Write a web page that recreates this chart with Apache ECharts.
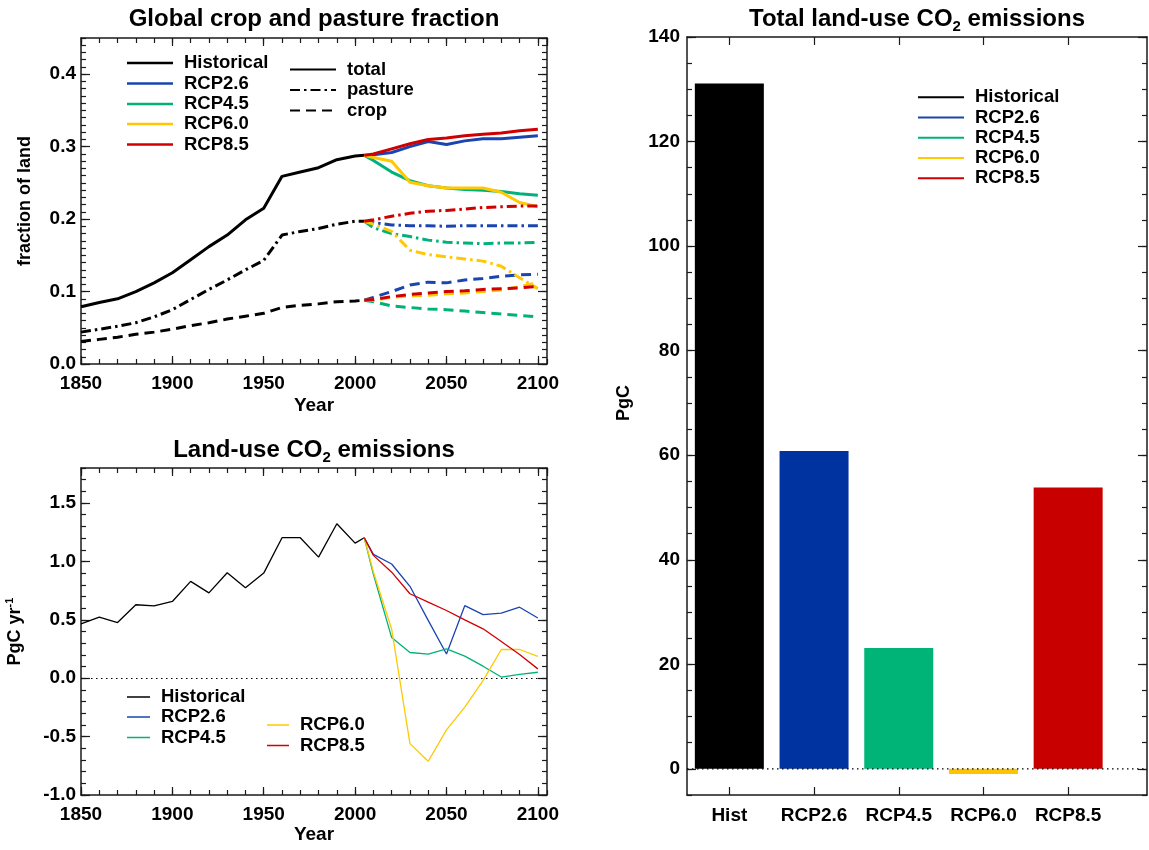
<!DOCTYPE html>
<html>
<head>
<meta charset="utf-8">
<script src="https://cdn.jsdelivr.net/npm/echarts@6/dist/echarts.min.js"></script>
<style>
  html, body { margin: 0; padding: 0; background: #ffffff; }
  #chart { width: 1149px; height: 850px; }
</style>
</head>
<body>
<div id="chart"></div>
<script>
// ---- data -------------------------------------------------------------
const yearsHist = [1850, 1860, 1870, 1880, 1890, 1900, 1910, 1920, 1930, 1940, 1950, 1960, 1970, 1980, 1990, 2000, 2005];
const yearsRcp = [2005, 2010, 2020, 2030, 2040, 2050, 2060, 2070, 2080, 2090, 2100];

const scenarios = ['Historical', 'RCP2.6', 'RCP4.5', 'RCP6.0', 'RCP8.5'];
const lineColors = ['#000000', '#1a44b0', '#00b27a', '#ffc800', '#d00000'];
const barColors = ['#000000', '#0033a0', '#00b478', '#ffc400', '#c80000'];

// fraction of land: total (crop + pasture), pasture, crop
const totalHist   = [0.079, 0.085, 0.090, 0.100, 0.112, 0.126, 0.144, 0.162, 0.178, 0.199, 0.215, 0.259, 0.265, 0.271, 0.282, 0.287, 0.288];
const pastureHist = [0.044, 0.048, 0.052, 0.057, 0.065, 0.075, 0.089, 0.103, 0.116, 0.130, 0.143, 0.178, 0.183, 0.187, 0.193, 0.197, 0.197];
const cropHist    = [0.031, 0.034, 0.037, 0.041, 0.044, 0.048, 0.053, 0.057, 0.062, 0.066, 0.070, 0.078, 0.081, 0.083, 0.086, 0.087, 0.088];

const totalRcp26 = [0.288, 0.289, 0.292, 0.300, 0.307, 0.303, 0.308, 0.311, 0.311, 0.313, 0.315];
const totalRcp45 = [0.288, 0.281, 0.265, 0.253, 0.246, 0.243, 0.241, 0.240, 0.238, 0.235, 0.233];
const totalRcp60 = [0.288, 0.285, 0.280, 0.251, 0.246, 0.243, 0.243, 0.243, 0.237, 0.223, 0.217];
const totalRcp85 = [0.288, 0.290, 0.297, 0.304, 0.310, 0.312, 0.315, 0.317, 0.319, 0.322, 0.324];

const pastureRcp26 = [0.197, 0.195, 0.192, 0.191, 0.191, 0.190, 0.191, 0.191, 0.191, 0.191, 0.191];
const pastureRcp45 = [0.197, 0.188, 0.180, 0.176, 0.171, 0.168, 0.167, 0.166, 0.167, 0.167, 0.168];
const pastureRcp60 = [0.197, 0.193, 0.183, 0.157, 0.151, 0.148, 0.145, 0.142, 0.135, 0.119, 0.104];
const pastureRcp85 = [0.197, 0.199, 0.204, 0.208, 0.211, 0.212, 0.214, 0.216, 0.217, 0.218, 0.218];

const cropRcp26 = [0.088, 0.092, 0.100, 0.109, 0.113, 0.112, 0.116, 0.118, 0.121, 0.123, 0.124];
const cropRcp45 = [0.088, 0.086, 0.080, 0.078, 0.076, 0.075, 0.073, 0.071, 0.069, 0.067, 0.065];
const cropRcp60 = [0.088, 0.088, 0.092, 0.094, 0.095, 0.097, 0.098, 0.100, 0.102, 0.107, 0.112];
const cropRcp85 = [0.088, 0.089, 0.093, 0.096, 0.098, 0.100, 0.101, 0.103, 0.104, 0.105, 0.107];

// land-use CO2 emissions, PgC per year
const emisHist  = [0.466, 0.523, 0.477, 0.629, 0.620, 0.657, 0.829, 0.731, 0.903, 0.774, 0.900, 1.203, 1.203, 1.037, 1.323, 1.157, 1.203];
const emisRcp26 = [1.203, 1.060, 0.978, 0.787, 0.495, 0.207, 0.621, 0.544, 0.557, 0.608, 0.516];
const emisRcp45 = [1.203, 0.890, 0.348, 0.220, 0.207, 0.251, 0.189, 0.103, 0.010, 0.032, 0.051];
const emisRcp60 = [1.203, 0.910, 0.420, -0.560, -0.711, -0.442, -0.248, -0.020, 0.246, 0.246, 0.187];
const emisRcp85 = [1.203, 1.052, 0.908, 0.723, 0.651, 0.580, 0.500, 0.423, 0.314, 0.203, 0.080];

// total land-use emissions, PgC
const barCategories = ['Hist', 'RCP2.6', 'RCP4.5', 'RCP6.0', 'RCP8.5'];
const barTotals = [131.1, 60.8, 23.1, -1.0, 53.8];

// ---- styling helpers --------------------------------------------------
const FONT = '"Liberation Sans", Arial, Helvetica, sans-serif';
const INK = '#000000';
const FRAME = '#1a1a1a';
const DASHED = [10, 6];
const DASH_DOT = [10, 4, 2.5, 4];

function pairs(xs, ys) { return xs.map((x, i) => [x, ys[i]]); }

const tickText = { fontFamily: FONT, fontWeight: 'bold', fontSize: 19, color: INK };

function valueAxis(gridIndex, position, min, max, interval, o) {
  o = o || {};
  const ax = {
    type: 'value', gridIndex: gridIndex, position: position,
    min: min, max: max, interval: interval,
    splitLine: { show: false },
    minorTick: { show: false },
    axisLine: { show: !!o.line, onZero: false, lineStyle: { color: FRAME, width: 1.5 } },
    axisTick: { show: !!o.tick, inside: true, length: o.tick || 0, lineStyle: { color: FRAME, width: 1.2 } },
    axisLabel: o.labels
      ? Object.assign({ show: true, margin: o.margin, showMinLabel: true, showMaxLabel: !!o.showMax, formatter: o.labels }, tickText)
      : { show: false }
  };
  if (o.name) {
    ax.name = o.name;
    ax.nameLocation = 'middle';
    ax.nameGap = o.nameGap;
    if (o.nameRotate !== undefined) ax.nameRotate = o.nameRotate;
    ax.nameTextStyle = Object.assign({ fontFamily: FONT, fontWeight: 'bold', fontSize: o.nameSize || 19, color: INK }, o.nameStyle || {});
  }
  return ax;
}

const fmt1 = v => v.toFixed(1);
const fmtYear = v => String(v);
const fmtInt = v => String(v);

// ---- grids ------------------------------------------------------------
const grids = [
  { left: 81, top: 38, width: 466, height: 326 },     // crop / pasture fraction
  { left: 81, top: 468, width: 466, height: 327 },    // yearly emissions
  { left: 687, top: 37, width: 423.5, height: 758 },  // bars
  { left: 687, top: 37, width: 460, height: 758 },    // frame of the bar panel
  { left: 687, top: 37, width: 460, height: 731.9 }   // labelled 0..140 scale of the bar panel
].map(g => Object.assign({ containLabel: false, outerBoundsMode: 'none', show: false }, g));

const xAxes = [];
const yAxes = [];

// time panels: labelled major ticks, minor ticks and mirrored ticks on the opposite sides
function timePanel(g, yMin, yMax, yMajor, yMinor, yName, yNameGap, yNameStyle, yearNameGap) {
  xAxes.push(valueAxis(g, 'bottom', 1850, 2105, 50, { line: true, tick: 8, labels: fmtYear, margin: 10, name: 'Year', nameGap: yearNameGap }));
  xAxes.push(valueAxis(g, 'bottom', 1850, 2105, 10, { tick: 5 }));
  xAxes.push(valueAxis(g, 'top', 1850, 2105, 50, { line: true, tick: 8 }));
  xAxes.push(valueAxis(g, 'top', 1850, 2105, 10, { tick: 5 }));
  yAxes.push(valueAxis(g, 'left', yMin, yMax, yMajor, { line: true, tick: 9, labels: fmt1, margin: 5, name: yName, nameGap: yNameGap, nameRotate: 90, nameSize: 18, nameStyle: yNameStyle }));
  yAxes.push(valueAxis(g, 'left', yMin, yMax, yMinor, { tick: 5 }));
  yAxes.push(valueAxis(g, 'right', yMin, yMax, yMajor, { line: true, tick: 9 }));
  yAxes.push(valueAxis(g, 'right', yMin, yMax, yMinor, { tick: 5 }));
}

timePanel(0, 0, 0.45, 0.1, 0.01, 'fraction of land', 47, {}, 32);
timePanel(1, -1.0, 1.8, 0.5, 0.1, 'PgC yr{sup|-1}', 55, {
  lineHeight: 22,
  rich: { sup: { fontFamily: FONT, fontWeight: 'bold', fontSize: 11, lineHeight: 10, verticalAlign: 'top', color: INK } }
}, 28);

// bar panel: category axis (index 8 bottom, 9 top), hidden value axis (index 8)
const catAxisBase = {
  type: 'category', gridIndex: 2, data: barCategories, boundaryGap: true,
  axisLine: { show: false, onZero: false },
  axisTick: { show: true, inside: true, alignWithLabel: true, length: 8, lineStyle: { color: FRAME, width: 1.2 } },
  splitLine: { show: false }
};
xAxes.push(Object.assign({}, catAxisBase, { position: 'bottom', axisLabel: Object.assign({ show: true, margin: 11, interval: 0 }, tickText) }));
xAxes.push(Object.assign({}, catAxisBase, { position: 'top', axisLabel: { show: false } }));
yAxes.push({ type: 'value', gridIndex: 2, min: -5, max: 140, show: false });

// frame of the bar panel (x 10, 11; y 9, 10)
xAxes.push(valueAxis(3, 'bottom', 0, 1, 1, { line: true }));
xAxes.push(valueAxis(3, 'top', 0, 1, 1, { line: true }));
yAxes.push(valueAxis(3, 'left', -5, 140, 5, { line: true, tick: 5 }));
yAxes.push(valueAxis(3, 'right', -5, 140, 5, { line: true, tick: 5 }));

// labelled 0..140 scale of the bar panel (x 12 hidden; y 11, 12)
xAxes.push({ type: 'value', gridIndex: 4, min: 0, max: 1, show: false });
yAxes.push(valueAxis(4, 'left', 0, 140, 20, { tick: 9, labels: fmtInt, showMax: true, margin: 7, name: 'PgC', nameGap: 54, nameRotate: 90, nameSize: 18 }));
yAxes.push(valueAxis(4, 'right', 0, 140, 20, { tick: 9 }));

// ---- series -----------------------------------------------------------
const series = [];

function line(xi, yi, data, color, width, dash, extra) {
  return Object.assign({
    type: 'line', xAxisIndex: xi, yAxisIndex: yi, data: data,
    symbol: 'none', showSymbol: false, silent: true, animation: false,
    lineStyle: { color: color, width: width, type: dash || 'solid' }
  }, extra || {});
}

const totalRcp = [totalRcp26, totalRcp45, totalRcp60, totalRcp85];
const pastureRcp = [pastureRcp26, pastureRcp45, pastureRcp60, pastureRcp85];
const cropRcp = [cropRcp26, cropRcp45, cropRcp60, cropRcp85];
const emisRcp = [emisRcp26, emisRcp45, emisRcp60, emisRcp85];

// fraction panel
series.push(line(0, 0, pairs(yearsHist, cropHist), lineColors[0], 3, DASHED));
series.push(line(0, 0, pairs(yearsHist, pastureHist), lineColors[0], 3, DASH_DOT));
series.push(line(0, 0, pairs(yearsHist, totalHist), lineColors[0], 3, 'solid'));
for (let k = 0; k < 4; k++) {
  series.push(line(0, 0, pairs(yearsRcp, cropRcp[k]), lineColors[k + 1], 3, DASHED));
  series.push(line(0, 0, pairs(yearsRcp, pastureRcp[k]), lineColors[k + 1], 3, DASH_DOT));
  series.push(line(0, 0, pairs(yearsRcp, totalRcp[k]), lineColors[k + 1], 3, 'solid'));
}

// yearly emissions panel, with a dotted zero line
series.push(line(4, 4, pairs(yearsHist, emisHist), lineColors[0], 1.3, 'solid', {
  markLine: {
    silent: true, symbol: 'none', animation: false, label: { show: false },
    lineStyle: { color: INK, width: 1.2, type: [1.5, 3.5] },
    data: [{ yAxis: 0 }]
  }
}));
for (let k = 0; k < 4; k++) {
  series.push(line(4, 4, pairs(yearsRcp, emisRcp[k]), lineColors[k + 1], 1.3, 'solid'));
}

// bar panel: dotted zero line across the whole frame, then the bars
series.push(line(10, 9, [[0, 0], [1, 0]], INK, 1.2, [1.5, 3.5]));
series.push({
  type: 'bar', xAxisIndex: 8, yAxisIndex: 8, barWidth: 69, silent: true, animation: false,
  data: barTotals.map((v, i) => ({ value: v, itemStyle: { color: barColors[i] } }))
});

// ---- legends ----------------------------------------------------------
const graphic = [];
const legendFont = 'bold 18.5px ' + FONT;

function legendRow(x1, x2, y, textX, label, color, width, dash) {
  graphic.push({ type: 'line', silent: true, shape: { x1: x1, y1: y, x2: x2, y2: y },
    style: { stroke: color, lineWidth: width, lineDash: dash || null } });
  graphic.push({ type: 'text', silent: true, x: textX, y: y,
    style: { text: label, fill: INK, font: legendFont, align: 'left', verticalAlign: 'middle' } });
}

const fracLegendRows = [63, 83.5, 104, 124, 144.5];
scenarios.forEach((s, i) => legendRow(127, 173, fracLegendRows[i], 184, s, lineColors[i], 2.5));
const styleLabels = ['total', 'pasture', 'crop'];
const styleDashes = [null, DASH_DOT, DASHED];
const styleRows = [69.5, 90, 110.5];
styleLabels.forEach((s, i) => legendRow(290, 336, styleRows[i], 347, s, INK, 2, styleDashes[i]));

const emisLegend = [
  [127, 150, 697, 161], [127, 150, 717, 161], [127, 150, 737.5, 161],
  [267, 289, 725, 300], [267, 289, 745.5, 300]
];
scenarios.forEach((s, i) => { const r = emisLegend[i]; legendRow(r[0], r[1], r[2], r[3], s, lineColors[i], 1.5); });

const barLegendRows = [97.3, 117.5, 137.7, 158, 178.3];
scenarios.forEach((s, i) => legendRow(918, 964, barLegendRows[i], 975, s, lineColors[i], 2));

// ---- titles -----------------------------------------------------------
const titleStyle = {
  fontFamily: FONT, fontWeight: 'bold', fontSize: 24, color: INK, lineHeight: 30,
  rich: { sub: { fontFamily: FONT, fontWeight: 'bold', fontSize: 15, lineHeight: 14, verticalAlign: 'bottom', color: INK } }
};
const titles = [
  { text: 'Global crop and pasture fraction', left: 314, top: 4 },
  { text: 'Land-use CO{sub|2} emissions', left: 314, top: 435 },
  { text: 'Total land-use CO{sub|2} emissions', left: 917, top: 4 }
].map(t => Object.assign({ textAlign: 'center', padding: 0, textStyle: titleStyle }, t));

// ---- chart ------------------------------------------------------------
const chart = echarts.init(document.getElementById('chart'), null, { renderer: 'canvas' });
chart.setOption({
  backgroundColor: '#ffffff',
  animation: false,
  title: titles,
  grid: grids,
  xAxis: xAxes,
  yAxis: yAxes,
  series: series,
  graphic: graphic
});
</script>
</body>
</html>
